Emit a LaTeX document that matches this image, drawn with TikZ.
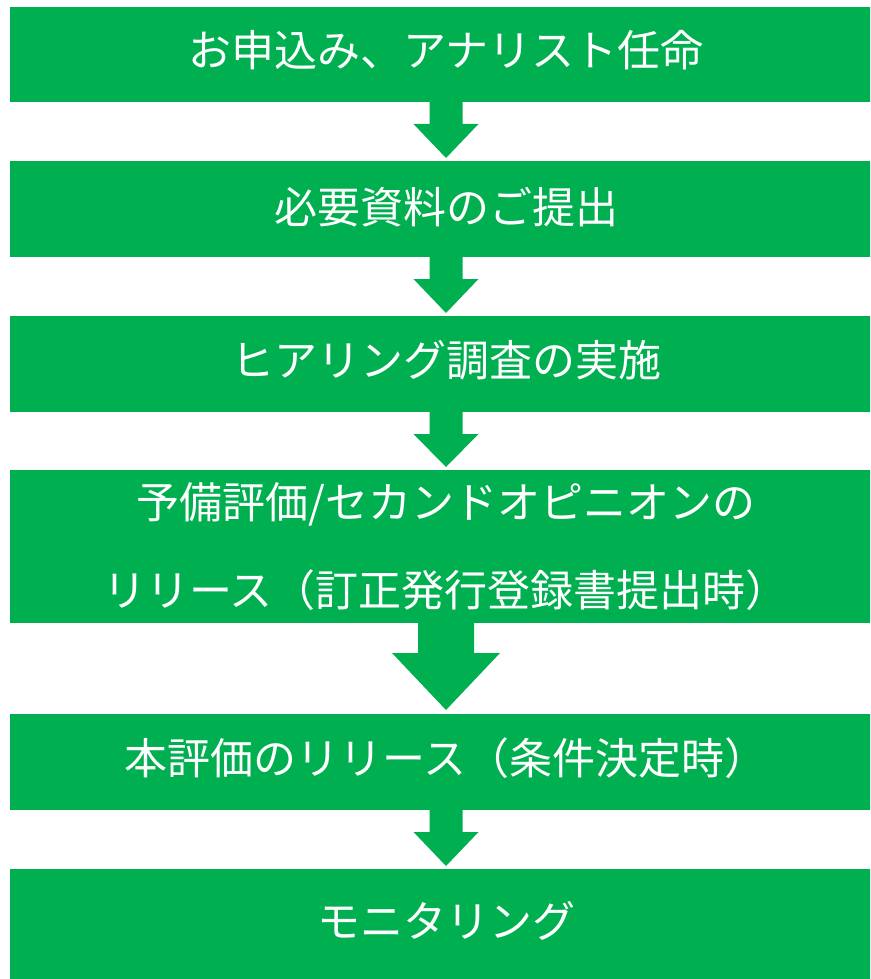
\documentclass[tikz,border=0pt]{standalone}
\usepackage{fontspec}
\setmainfont{Noto Sans CJK JP}
\usetikzlibrary{calc}
\definecolor{flowgreen}{RGB}{0,176,80}
\tikzset{
  box/.style={fill=flowgreen, draw=none, minimum width=872pt, inner sep=0pt, outer sep=0pt, anchor=north},
  lbl/.style={text=white, font=\fontsize{43}{88}\selectfont, align=center, inner sep=0pt},
}
% #1 from node, #2 to node, #3 shaft half width, #4 head half width, #5 shaft length, #6 gap at tip
\newcommand\flowarrow[6]{%
  \fill[flowgreen] ($(#1.south)+(-#3,-1)$) -- ($(#1.south)+(-#3,#5)$) -- ($(#1.south)+(-#4,#5)$)
    -- ($(#2.north)+(0,-#6)$) -- ($(#1.south)+(#4,#5)$) -- ($(#1.south)+(#3,#5)$)
    -- ($(#1.south)+(#3,-1)$) -- cycle;}
\begin{document}
\begin{tikzpicture}[x=1pt,y=-1pt]
\useasboundingbox (0,0) rectangle (870,979);
\clip (0,0) rectangle (870,979);
\fill[white] (0,0) rectangle (870,979);
\node[box, minimum height=95pt]  (b1) at (446,7) {};
\node[box, minimum height=96pt]  (b2) at (446,161) {};
\node[box, minimum height=96pt]  (b3) at (446,316) {};
\node[box, minimum height=153pt] (b4) at (446,470) {};
\node[box, minimum height=96pt]  (b5) at (446,714) {};
\node[box, minimum height=111pt] (b6) at (446,869) {};
\node[lbl] (t1) at ($(b1.center)+(0,-4)$) {お申込み、アナリスト任命};
\node[lbl] (t2) at ($(b2.center)+(0,-2)$) {必要資料のご提出};
\node[lbl] (t3) at ($(b3.center)+(0,-4)$) {ヒアリング調査の実施};
\node[lbl] (t4) at ($(b4.center)+(0,0)$) {予備評価/セカンドオピニオンの\\リリース（訂正発行登録書提出時）};
\node[lbl] (t5) at ($(b5.center)+(0,-4)$) {本評価のリリース（条件決定時）};
\node[lbl] (t6) at ($(b6.center)+(0,-4)$) {モニタリング};
\flowarrow{b1}{b2}{16.5}{32.5}{22}{3}
\flowarrow{b2}{b3}{16.5}{32.5}{22}{3}
\flowarrow{b3}{b4}{16.5}{32.5}{22}{3}
\flowarrow{b4}{b5}{28}{54}{30}{4}
\flowarrow{b5}{b6}{16.5}{32.5}{22}{3}
\end{tikzpicture}
\end{document}
